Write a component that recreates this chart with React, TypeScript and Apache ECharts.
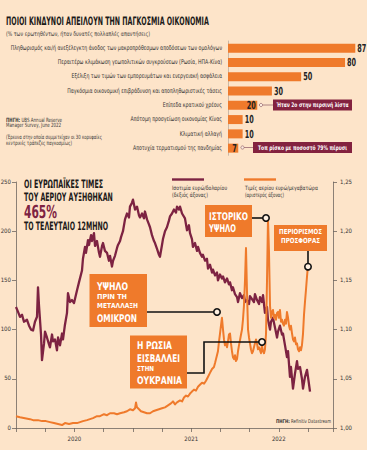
import React, { useEffect, useRef } from 'react';
import * as echarts from 'echarts';

// ---------- DATA ----------
const riskCategories = [
  'Πληθωρισμός και/ή ανεξέλεγκτη άνοδος των μακροπρόθεσμων αποδόσεων των ομολόγων',
  'Περαιτέρω κλιμάκωση γεωπολιτικών συγκρούσεων (Ρωσία, ΗΠΑ-Κίνα)',
  'Εξέλιξη των τιμών των εμπορευμάτων και ενεργειακή ασφάλεια',
  'Παγκόσμια οικονομική επιβράδυνση και αποπληθωριστικές τάσεις',
  'Επίπεδα κρατικού χρέους',
  'Απότομη προσγείωση οικονομίας Κίνας',
  'Κλιματική αλλαγή',
  'Αποτυχία τερματισμού της πανδημίας',
];
const riskValues = [87, 80, 50, 30, 20, 10, 10, 7];

// x = months since January 2020
const xTickLabels = ['', '', '2020', '', '', '', '2021', '', '', '2022', ''];

// Gas price, euro / MWh (left axis)
const gasPrice: [number, number][] = [
  [0, 12], [0.41, 11], [0.92, 10], [1.44, 9], [1.75, 8], [2.26, 8], [2.67, 7], [3.08, 7], [3.49, 6], [3.9, 5],
  [4.32, 4], [4.73, 3], [5.03, 5], [5.45, 4], [5.86, 5], [6.27, 5], [6.58, 6], [6.88, 7], [7.29, 8], [7.6, 9],
  [7.91, 10], [8.32, 12], [8.63, 12], [9.04, 14], [9.35, 13], [9.66, 15], [10.07, 15], [10.38, 14], [10.69, 15], [11.1, 16],
  [11.4, 17], [11.71, 19], [12.02, 18], [12.23, 20], [12.33, 26], [12.43, 21], [12.64, 19], [12.84, 17], [13.15, 16], [13.46, 15],
  [13.77, 15], [14.08, 17], [14.38, 18], [14.69, 19], [15.0, 20], [15.31, 21], [15.62, 23], [15.92, 25], [16.13, 27], [16.34, 24],
  [16.54, 26], [16.85, 28], [17.06, 27], [17.26, 31], [17.47, 33], [17.67, 32], [17.88, 35], [18.08, 37], [18.29, 39], [18.49, 38],
  [18.7, 42], [18.9, 44], [19.11, 46], [19.32, 45], [19.52, 48], [19.73, 52], [19.93, 56], [20.14, 60], [20.34, 62], [20.45, 66],
  [20.55, 70], [20.65, 74], [20.75, 78], [20.86, 88], [20.96, 96], [21.06, 104], [21.16, 112], [21.27, 100], [21.37, 90], [21.47, 84],
  [21.58, 86], [21.68, 82], [21.78, 88], [21.88, 95], [21.99, 96], [22.09, 86], [22.19, 78], [22.29, 72], [22.4, 70], [22.5, 74],
  [22.6, 68], [22.71, 70], [22.81, 78], [22.91, 84], [23.01, 89], [23.12, 95], [23.22, 100], [23.32, 110], [23.42, 124], [23.53, 150],
  [23.63, 183], [23.73, 140], [23.84, 100], [23.94, 92], [24.04, 86], [24.14, 80], [24.25, 76], [24.35, 78], [24.45, 82], [24.55, 86],
  [24.66, 90], [24.76, 86], [24.86, 80], [24.97, 82], [25.07, 79], [25.17, 76], [25.27, 84], [25.38, 78], [25.48, 76], [25.58, 80],
  [25.69, 96], [25.79, 150], [25.89, 212], [25.99, 180], [26.1, 124], [26.2, 112], [26.3, 118], [26.4, 120], [26.51, 112], [26.61, 115],
  [26.71, 110], [26.82, 117], [26.92, 118], [27.02, 112], [27.12, 120], [27.23, 108], [27.33, 110], [27.43, 106], [27.53, 104], [27.64, 110],
  [27.74, 106], [27.84, 118], [27.95, 112], [28.05, 104], [28.15, 100], [28.25, 104], [28.36, 96], [28.46, 90], [28.56, 88], [28.66, 92],
  [28.77, 85], [28.87, 86], [28.97, 80], [29.08, 78], [29.18, 82], [29.28, 79], [29.38, 84], [29.49, 96], [29.59, 115], [29.69, 128],
  [29.79, 140], [29.9, 154], [30.0, 165],
];

// EUR/USD exchange rate (right axis)
const eurUsd: [number, number][] = [
  [0, 1.123], [0.21, 1.118], [0.41, 1.113], [0.62, 1.115], [0.82, 1.108], [1.13, 1.11], [1.34, 1.104], [1.54, 1.1], [1.75, 1.099], [1.95, 1.108],
  [2.16, 1.113], [2.26, 1.143], [2.36, 1.125], [2.57, 1.095], [2.67, 1.069], [2.88, 1.086], [2.98, 1.098], [3.18, 1.092], [3.39, 1.085], [3.49, 1.082],
  [3.7, 1.095], [3.8, 1.088], [4.01, 1.09], [4.21, 1.079], [4.32, 1.092], [4.52, 1.084], [4.73, 1.096], [4.83, 1.09], [5.03, 1.105], [5.24, 1.117],
  [5.34, 1.137], [5.55, 1.128], [5.75, 1.13], [5.96, 1.127], [6.27, 1.14], [6.47, 1.148], [6.78, 1.16], [6.88, 1.172], [7.09, 1.184], [7.19, 1.178],
  [7.4, 1.191], [7.5, 1.186], [7.71, 1.196], [7.81, 1.19], [8.01, 1.198], [8.12, 1.185], [8.32, 1.19], [8.53, 1.178], [8.63, 1.174], [8.84, 1.185],
  [8.94, 1.188], [9.14, 1.18], [9.35, 1.178], [9.55, 1.17], [9.66, 1.175], [9.86, 1.164], [9.97, 1.17], [10.17, 1.175], [10.38, 1.183], [10.48, 1.186],
  [10.69, 1.19], [10.79, 1.194], [10.99, 1.2], [11.2, 1.212], [11.4, 1.218], [11.61, 1.214], [11.71, 1.225], [11.92, 1.229], [12.02, 1.232], [12.23, 1.222],
  [12.43, 1.225], [12.64, 1.216], [12.74, 1.214], [12.95, 1.218], [13.15, 1.213], [13.25, 1.22], [13.46, 1.212], [13.66, 1.207], [13.77, 1.204], [13.97, 1.196],
  [14.18, 1.19], [14.28, 1.188], [14.49, 1.182], [14.69, 1.176], [14.79, 1.174], [15.0, 1.186], [15.1, 1.192], [15.31, 1.2], [15.51, 1.204], [15.72, 1.211],
  [15.82, 1.215], [16.03, 1.218], [16.23, 1.222], [16.44, 1.219], [16.54, 1.225], [16.75, 1.222], [16.85, 1.225], [17.06, 1.218], [17.36, 1.213], [17.57, 1.201],
  [17.77, 1.206], [17.88, 1.198], [18.08, 1.192], [18.18, 1.184], [18.39, 1.188], [18.6, 1.18], [18.7, 1.184], [18.9, 1.178], [19.11, 1.174], [19.21, 1.176],
  [19.42, 1.17], [19.62, 1.172], [19.73, 1.162], [19.93, 1.166], [20.14, 1.158], [20.24, 1.161], [20.45, 1.155], [20.65, 1.158], [20.75, 1.15], [20.96, 1.156],
  [21.16, 1.152], [21.27, 1.154], [21.47, 1.148], [21.68, 1.152], [21.88, 1.146], [21.99, 1.148], [22.19, 1.14], [22.29, 1.143], [22.5, 1.136], [22.71, 1.133],
  [22.81, 1.128], [23.01, 1.137], [23.22, 1.132], [23.42, 1.135], [23.53, 1.128], [23.73, 1.13], [23.94, 1.126], [24.04, 1.134], [24.25, 1.131], [24.45, 1.128],
  [24.55, 1.136], [24.76, 1.13], [24.97, 1.126], [25.07, 1.133], [25.27, 1.128], [25.38, 1.135], [25.58, 1.117], [25.79, 1.123], [25.89, 1.11], [26.1, 1.1],
  [26.2, 1.108], [26.4, 1.112], [26.61, 1.102], [26.82, 1.092], [26.92, 1.098], [27.12, 1.104], [27.33, 1.095], [27.43, 1.096], [27.64, 1.084], [27.84, 1.072],
  [27.95, 1.078], [28.15, 1.052], [28.25, 1.062], [28.46, 1.04], [28.66, 1.055], [28.87, 1.068], [28.97, 1.06], [29.18, 1.062], [29.38, 1.05], [29.49, 1.04],
  [29.69, 1.052], [29.9, 1.059], [30.0, 1.052], [30.21, 1.037],
];

// ---------- STYLE ----------
const BG = '#FDE4C9';
const ORANGE = '#EF7A2B';
const MAROON = '#7D2342';
const MAROON_BOX = '#83223F';
const INK = '#1c1a19';
const AXIS = '#6f6660';
const NARROW = "'Liberation Sans Narrow', 'DejaVu Sans Condensed', sans-serif";
const UP = 2; // texts are drawn at UP× size and scaled down, so small glyph advances stay exact

let measureCtx: CanvasRenderingContext2D | null = null;
function measure(text: string, size: number, bold: boolean) {
  if (!measureCtx) measureCtx = document.createElement('canvas').getContext('2d');
  if (!measureCtx) return 0;
  measureCtx.font = `${bold ? 'bold ' : ''}${size}px ${NARROW}`;
  return measureCtx.measureText(text).width;
}

type TOpt = { bold?: boolean; fill?: string; align?: string; target?: number; sx?: number; boldPrefix?: string; z?: number };
function txt(x: number, y: number, text: string, size: number, o: TOpt = {}) {
  const bold = !!o.bold;
  const big = size * UP;
  let w = 0;
  let content = text;
  let rich: any = undefined;
  if (o.boldPrefix) {
    w = measure(o.boldPrefix, big, true) + measure(text, big, false);
    content = `{b|${o.boldPrefix}}${text}`;
    rich = { b: { fontWeight: 'bold', fontSize: big, fontFamily: NARROW, fill: o.fill || '#333' } };
  } else {
    w = measure(text, big, bold);
  }
  const sx = o.sx ? o.sx / UP : o.target && w > 0 ? o.target / w : 1 / UP;
  const align = o.align || 'left';
  return {
    type: 'text',
    x,
    y,
    scaleX: sx,
    scaleY: 1 / UP,
    z: o.z || 100,
    silent: true,
    style: {
      text: content,
      fontSize: big,
      fontFamily: NARROW,
      fontWeight: bold ? 'bold' : 'normal',
      fill: o.fill || '#333',
      align,
      textAlign: align,
      verticalAlign: 'middle',
      textVerticalAlign: 'middle',
      rich,
    },
  };
}
const rect = (x: number, y: number, w: number, h: number, fill: string) => ({
  type: 'rect', z: 90, silent: true, shape: { x, y, width: w, height: h }, style: { fill },
});
const seg = (pts: number[][], stroke: string, width: number) => ({
  type: 'polyline', z: 85, silent: true, shape: { points: pts }, style: { stroke, lineWidth: width, fill: 'none' },
});
const dot = (cx: number, cy: number, r: number, stroke: string, width: number) => ({
  type: 'circle', z: 95, silent: true, shape: { cx, cy, r }, style: { stroke, lineWidth: width, fill: '#FFF1E2' },
});

function buildGraphic() {
  const g: any[] = [];
  // top header
  g.push(txt(6, 21, 'ΠΟΙΟΙ ΚΙΝΔΥΝΟΙ ΑΠΕΙΛΟΥΝ ΤΗΝ ΠΑΓΚΟΣΜΙΑ ΟΙΚΟΝΟΜΙΑ', 11.5, { bold: true, fill: INK, target: 203 }));
  g.push(txt(6, 34, '(% των ερωτηθέντων, ήταν δυνατές πολλαπλές απαντήσεις)', 6.3, { target: 144, fill: '#3a3a3a' }));
  // source (top)
  g.push(txt(6, 119.5, ' UBS Annual Reserve', 5.8, { boldPrefix: 'ΠΗΓΗ:', target: 56, fill: '#3a3a3a' }));
  g.push(txt(6, 125.3, 'Manager Survey, June 2022', 5.8, { target: 55, fill: '#3a3a3a' }));
  g.push(txt(6, 137.3, '(Έρευνα στην οποία συμμετείχαν οι 30 κορυφαίες', 5.8, { target: 96, fill: '#3a3a3a' }));
  g.push(txt(6, 142.8, 'κεντρικές τράπεζες παγκοσμίως)', 5.8, { target: 66, fill: '#3a3a3a' }));
  // bar notes
  g.push(seg([[262.5, 105], [273, 105]], '#9a6a72', 0.8));
  g.push(dot(261, 105, 1.6, '#9a6a72', 0.8));
  g.push(rect(273, 99.5, 79, 11, MAROON_BOX));
  g.push(txt(312.5, 105, 'Ήταν 2ο στην περσινή λίστα', 6.3, { bold: true, fill: '#fff', align: 'center', target: 72 }));
  g.push(seg([[244, 147.5], [253, 147.5]], '#9a6a72', 0.8));
  g.push(dot(242.5, 147.5, 1.6, '#9a6a72', 0.8));
  g.push(rect(253, 142, 99, 11, MAROON_BOX));
  g.push(txt(302.5, 147.5, 'Τοπ ρίσκο με ποσοστό 79% πέρυσι', 6.3, { bold: true, fill: '#fff', align: 'center', target: 89 }));

  // bottom header
  g.push(txt(24, 184, 'ΟΙ ΕΥΡΩΠΑΪΚΕΣ ΤΙΜΕΣ', 11.5, { bold: true, fill: INK, target: 79 }));
  g.push(txt(24, 197.5, 'ΤΟΥ ΑΕΡΙΟΥ ΑΥΞΗΘΗΚΑΝ', 11.5, { bold: true, fill: INK, target: 89 }));
  g.push(txt(24, 212.5, '465%', 18, { bold: true, fill: MAROON, target: 33 }));
  g.push(txt(24, 226, 'ΤΟ ΤΕΛΕΥΤΑΙΟ 12ΜΗΝΟ', 11.5, { bold: true, fill: INK, target: 84 }));

  // legend
  g.push(seg([[172, 179.5], [204, 179.5]], MAROON, 2.4));
  g.push(txt(172, 187.5, 'Ισοτιμία ευρώ/δολαρίου', 6, { target: 55 }));
  g.push(txt(172, 194.5, '(δεξιός άξονας)', 6, { target: 36 }));
  g.push(seg([[244, 179.5], [276, 179.5]], ORANGE, 2.4));
  g.push(txt(245, 187.5, 'Τιμές αερίου ευρώ/μεγαβατώρα', 6, { target: 73 }));
  g.push(txt(245, 194.5, '(αριστερός άξονας)', 6, { target: 39 }));

  // annotation A
  g.push(seg([[252, 218], [263, 218]], '#111', 1.6));
  g.push(rect(205, 205, 47, 32, ORANGE));
  g.push(txt(209, 216, 'ΙΣΤΟΡΙΚΟ', 10.5, { bold: true, fill: '#fff', target: 39 }));
  g.push(txt(209, 228, 'ΥΨΗΛΟ', 10.5, { bold: true, fill: '#fff', target: 27 }));
  g.push(dot(266, 218, 3.2, '#111', 1.6));
  // annotation B
  g.push(seg([[308, 251], [308, 263.5]], '#111', 1.6));
  g.push(rect(274, 225, 53, 26, ORANGE));
  g.push(txt(300.5, 231.8, 'ΠΕΡΙΟΡΙΣΜΟΣ', 7, { bold: true, fill: '#fff', align: 'center', target: 43 }));
  g.push(txt(300.5, 241.2, 'ΠΡΟΣΦΟΡΑΣ', 7, { bold: true, fill: '#fff', align: 'center', target: 39 }));
  g.push(dot(308, 266.7, 3.2, '#111', 1.6));
  // annotation C
  g.push(seg([[147, 312], [214, 312]], '#111', 1.6));
  g.push(rect(89.5, 274, 57.5, 53, ORANGE));
  g.push(txt(97, 286, 'ΥΨΗΛΟ', 10.5, { bold: true, fill: '#fff', target: 31 }));
  g.push(txt(97, 296.8, 'ΠΡΙΝ ΤΗ', 7, { bold: true, fill: '#fff', target: 30 }));
  g.push(txt(97, 305.8, 'ΜΕΤΑΛΛΑΞΗ', 7, { bold: true, fill: '#fff', target: 41 }));
  g.push(txt(97, 318.8, 'ΟΜΙΚΡΟΝ', 10.5, { bold: true, fill: '#fff', target: 40 }));
  g.push(dot(217, 312, 3.2, '#111', 1.6));
  // annotation D
  g.push(seg([[187, 373], [204, 373], [204, 342], [259, 342]], '#111', 1.6));
  g.push(rect(130, 335.5, 57, 53, ORANGE));
  g.push(txt(137, 345.5, 'Η ΡΩΣΙΑ', 10.5, { bold: true, fill: '#fff', target: 35 }));
  g.push(txt(137, 358.8, 'ΕΙΣΒΑΛΛΕΙ', 10.5, { bold: true, fill: '#fff', target: 43 }));
  g.push(txt(137, 368.8, 'ΣΤΗΝ', 7, { bold: true, fill: '#fff', target: 17 }));
  g.push(txt(137, 380.5, 'ΟΥΚΡΑΝΙΑ', 10.5, { bold: true, fill: '#fff', target: 45 }));
  g.push(dot(262, 342, 3.2, '#111', 1.6));

  // bottom source
  g.push(txt(331, 421.5, ' Refinitiv Datastream', 5.2, { boldPrefix: 'ΠΗΓΗ:', target: 55, align: 'right', fill: '#333' }));
  return g;
}

const annotatedBars = new Set([4, 7]);

export default function App() {
  const ref = useRef<HTMLDivElement>(null);
  useEffect(() => {
    if (!ref.current) return;
    const chart = echarts.init(ref.current, undefined, { renderer: 'svg' });
    const axisLabelBase = { fontSize: 6, color: '#333', fontFamily: NARROW };
    const option: any = {
      animation: false,
      backgroundColor: BG,
      grid: [
        { left: 228, top: 41, width: 139, height: 114.3, containLabel: false, outerBoundsMode: 'none' },
        { left: 16, top: 182, width: 317, height: 246, containLabel: false, outerBoundsMode: 'none' },
      ],
      xAxis: [
        { type: 'value', gridIndex: 0, min: 0, max: 95, show: false },
        {
          type: 'value', gridIndex: 1, min: 0, max: 32.57, interval: 3,
          splitLine: { show: false },
          axisLine: { show: true, lineStyle: { color: AXIS, width: 0.8 } },
          axisTick: { show: true, length: 4, lineStyle: { color: AXIS, width: 0.8 } },
          axisLabel: {
            ...axisLabelBase, margin: 8,
            formatter: (v: number) => (Math.abs(v / 3 - Math.round(v / 3)) < 1e-6 ? xTickLabels[Math.round(v / 3)] || '' : ''),
          },
        },
      ],
      yAxis: [
        {
          type: 'category', gridIndex: 0, inverse: true, data: riskCategories,
          axisLine: { show: true, lineStyle: { color: '#a89c92', width: 0.6 } },
          axisTick: { show: false },
          axisLabel: { show: false },
        },
        {
          type: 'value', gridIndex: 1, position: 'left', min: 0, max: 250, interval: 50,
          splitLine: { show: false },
          axisLine: { show: true, lineStyle: { color: AXIS, width: 0.8 } },
          axisTick: { show: true, length: 4, lineStyle: { color: AXIS, width: 0.8 } },
          axisLabel: { ...axisLabelBase, margin: 5 },
        },
        {
          type: 'value', gridIndex: 1, position: 'right', min: 1, max: 1.25, interval: 0.05,
          splitLine: { show: false },
          axisLine: { show: true, lineStyle: { color: AXIS, width: 0.8 } },
          axisTick: { show: true, length: 4, lineStyle: { color: AXIS, width: 0.8 } },
          axisLabel: { ...axisLabelBase, margin: 7, formatter: (v: number) => v.toFixed(2).replace('.', ',') },
        },
      ],
      series: [
        {
          type: 'bar', xAxisIndex: 0, yAxisIndex: 0, barWidth: 9,
          itemStyle: { color: ORANGE },
          label: { show: false },
          data: riskValues,
        },
        {
          type: 'line', xAxisIndex: 1, yAxisIndex: 2, data: eurUsd, showSymbol: false, z: 3,
          lineStyle: { color: MAROON, width: 2.3, join: 'round' },
        },
        {
          type: 'line', xAxisIndex: 1, yAxisIndex: 1, data: gasPrice, showSymbol: false, z: 4,
          lineStyle: { color: ORANGE, width: 2, join: 'round' },
        },
      ],
    };
    chart.setOption(option);

    // category labels, aligned to the category axis positions (uniform condensed scale)
    const catSize = 6.6;
    const catSx = 211 / (measure(riskCategories[0], catSize * UP, false) / UP || 211);
    const catLabels = riskCategories.map((c, i) => {
      const p = chart.convertToPixel({ xAxisIndex: 0, yAxisIndex: 0 }, [0, i]) as number[];
      return txt(p[0] - 6, p[1], c, catSize, { fill: '#333', align: 'right', sx: catSx, z: 60 });
    });
    // bar value labels: placed at the bar ends given by the axis scales
    const digitSx = 9 / ((measure('00', 11 * UP, true) / UP) || 12);
    const valueLabels = riskValues.map((v, i) => {
      const p = chart.convertToPixel({ xAxisIndex: 0, yAxisIndex: 0 }, [v, i]) as number[];
      const inside = annotatedBars.has(i);
      return txt(inside ? p[0] - 1.5 : p[0] + 2, p[1] + 0.5, String(v), 11, {
        bold: true, fill: '#222', align: inside ? 'right' : 'left', sx: digitSx, z: 60,
      });
    });
    chart.setOption({ graphic: [...buildGraphic(), ...catLabels, ...valueLabels] });
    return () => chart.dispose();
  }, []);
  return (
    <>
      <style>{'svg text { text-rendering: geometricPrecision; }'}</style>
      <div ref={ref} style={{ position: 'fixed', left: 0, top: 0, width: 367, height: 450 }} />
    </>
  );
}
